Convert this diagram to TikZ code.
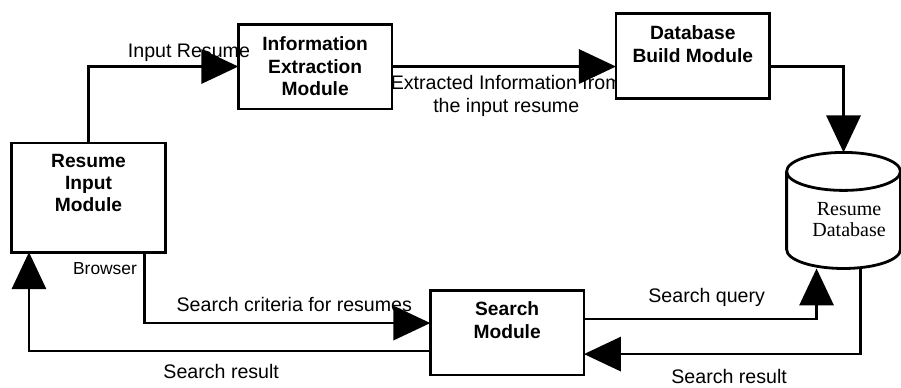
\documentclass[tikz,border=0pt]{standalone}
\usepackage{fontspec}
\setmainfont{Liberation Sans}
\newfontfamily\dbfont{Liberation Serif}
\usetikzlibrary{positioning,arrows.meta}

\begin{document}
\begin{tikzpicture}
[
box-a/.style={rectangle, draw, line width=1.4pt, fill=white, outer sep=0pt, minimum width=27.00mm, minimum height=14.90mm},
box-b/.style={rectangle, inner sep=0pt, outer sep=0pt, minimum width=20.00mm, minimum height=20.40mm},
text-a/.style={black, inner sep=0pt, align=center, font=\fontsize{9.8}{11.5}\selectfont},
text-b/.style={black, inner sep=0pt, align=center, font=\fontsize{9.6}{11.2}\selectfont\bfseries},
text-c/.style={black, inner sep=0pt, align=center, font=\fontsize{10}{10.5}\selectfont\dbfont},
text-d/.style={black, inner sep=0pt, font=\fontsize{8.7}{10}\selectfont},
flow/.style={line width=1.4pt, -{Triangle[length=6.50mm, width=6.00mm]}}
]
\fill[white] (0,0) rectangle (158.33mm,-68.18mm);
\useasboundingbox (0,0) rectangle (158.33mm,-68.18mm);

\node (input)        [box-a, minimum height=19.20mm] at (15.55mm,-34.71mm) {};
\node (input-txt)    [text-b] at ([yshift=2.55mm]input.center) {Resume\\Input\\Module};
\node (extract)      [box-a, above right = 05.97mm and 12.83mm of input] {};
\node (extract-txt)  [text-b] at (extract.center) {Information\\Extraction\\Module};
\node (lbl-extract)  [text-a, below right = 01.50mm and -00.28mm of extract.east] {Extracted Information from\\the input resume};
\node (build)        [box-a, right = 39.36mm of extract, yshift=1.85mm] {};
\node (build-txt)    [text-b] at ([yshift=2.10mm]build.center) {Database\\Build Module};
\node (search)       [box-a, below right = 06.68mm and 46.57mm of input] {};
\node (search-txt)   [text-b] at ([yshift=2.20mm]search.center) {Search\\Module};
\node (db)           [box-b, below right = 09.49mm and 02.99mm of build] {};
\node (db-txt)       [text-c] at ([xshift=0.97mm, yshift=-1.58mm]db.center) {Resume\\Database};

% database drum
\draw [line width=1.4pt] ([yshift=-3.34mm]db.north) ellipse [x radius=10.00mm, y radius=3.34mm];
\draw [line width=1.4pt] ([yshift=-3.34mm]db.north west) -- ([yshift=3.34mm]db.south west)
  arc [start angle=180, end angle=360, x radius=10.00mm, y radius=3.34mm] -- ([yshift=-3.34mm]db.north east);

\node (lbl-input)    [text-a, above left  = 00.80mm and -02.11mm of extract.west] {Input Resume};
\node (lbl-browser)  [text-d, below left  = 01.83mm and 04.92mm of input.south east] {Browser};
\node (lbl-criteria) [text-a, above left  = 03.60mm and 03.16mm of search.west] {Search criteria for resumes};
\node (lbl-result-1) [text-a, below left  = -01.98mm and 26.53mm of search.south west] {Search result};
\node (lbl-query)    [text-a, above right = 04.48mm and 11.25mm of search.east] {Search query};
\node (lbl-result-2) [text-a, below right = -01.10mm and 15.29mm of search.south east] {Search result};

% connectors
\draw [flow] (input.north) |- (extract.west);
\draw [flow] (extract.east) -- (extract.east -| build.west);
\draw [flow] (build.east |- extract.east) -| (db.north);
\draw [flow] ([xshift=-3.69mm]input.south east) |- ([yshift=1.67mm]search.west);
\draw [flow] ([yshift=-3.25mm]search.west) -| ([xshift=-10.46mm]input.south);
\draw [flow] ([yshift=2.37mm]search.east) -| ([xshift=-4.74mm]db.south);
\draw [flow] ([xshift=2.99mm]db.south) |- ([yshift=-3.78mm]search.east);
\end{tikzpicture}
\end{document}
